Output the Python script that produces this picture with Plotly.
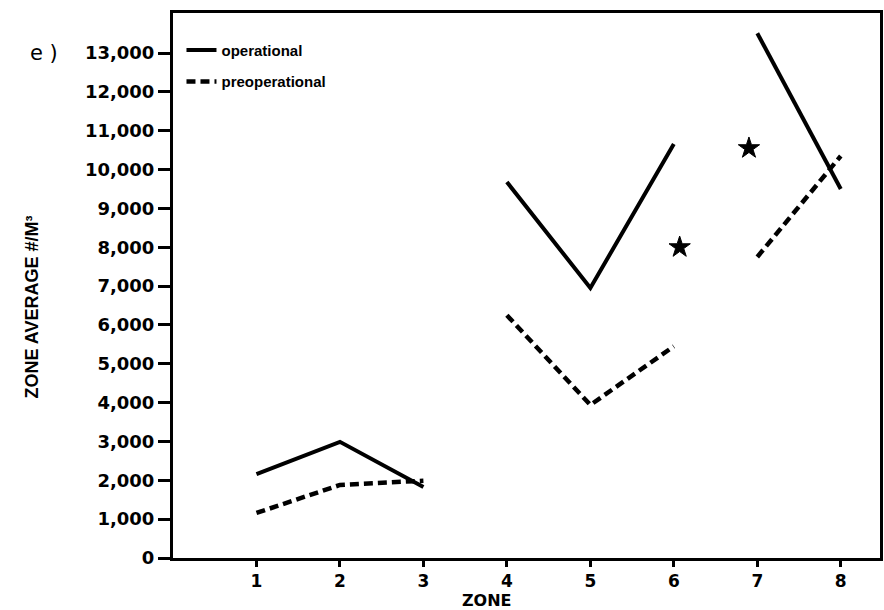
import plotly.graph_objects as go

# Zone averages (#/m^3); None breaks the line between zone groups
zones = [1, 2, 3, None, 4, 5, 6, None, 7, 8]
operational = [2160, 2990, 1830, None, 9680, 6950, 10660, None, 13510, 9500]
preoperational = [1160, 1880, 1990, None, 6250, 3940, 5450, None, 7750, 10350]

# Starred values
star_zones = [6.07, 6.9]
star_values = [8000, 10550]

y_ticks = list(range(0, 14000, 1000))
x_ticks = [1, 2, 3, 4, 5, 6, 7, 8]

sans = "Liberation Sans, Arial, sans-serif"
wide = "DejaVu Sans, sans-serif"

fig = go.Figure()
fig.add_trace(go.Scatter(
    x=zones, y=operational, mode="lines", name="operational",
    legendgroup="op",
    line=dict(color="black", width=4), connectgaps=False,
))
fig.add_trace(go.Scatter(
    x=zones, y=preoperational, mode="lines", name="preoperational",
    legendgroup="pre",
    line=dict(color="black", width=4.5, dash="9px,5px"), connectgaps=False,
))
fig.add_trace(go.Scatter(
    x=star_zones, y=star_values, mode="markers", showlegend=False,
    marker=dict(symbol="star", size=16, color="black",
                line=dict(color="black", width=1)),
))

fig.update_layout(
    width=884, height=610,
    margin=dict(l=173, r=1, t=13, b=52),
    paper_bgcolor="white", plot_bgcolor="white",
    font=dict(family=sans, color="black", size=16),
    showlegend=True,
    legend=dict(
        x=0.012, y=0.962, xanchor="left", yanchor="top",
        bgcolor="rgba(0,0,0,0)", borderwidth=0,
        font=dict(family=sans, size=15, weight="bold"),
        itemwidth=30, tracegroupgap=9,
    ),
    xaxis=dict(
        range=[0, 8.47], tickvals=x_ticks, ticktext=[str(v) for v in x_ticks],
        showgrid=False, zeroline=False,
        showline=True, linecolor="black", linewidth=3, mirror=True,
        ticks="outside", ticklen=6, tickwidth=2.5, tickcolor="black",
        tickfont=dict(family=wide, size=17, weight="bold"),
    ),
    yaxis=dict(
        range=[0, 14030], tickvals=y_ticks,
        ticktext=[f"{v:,}" for v in y_ticks],
        showgrid=False, zeroline=False,
        showline=True, linecolor="black", linewidth=3, mirror=True,
        ticks="outside", ticklen=12, tickwidth=2.5, tickcolor="black",
        tickfont=dict(family=wide, size=18, weight="bold"),
    ),
    annotations=[
        dict(text="e )", xref="paper", yref="paper", x=-0.183, y=0.927,
             xanchor="center", yanchor="middle", showarrow=False,
             font=dict(family=wide, size=21)),
        dict(text="ZONE AVERAGE #/M³", xref="paper", yref="paper",
             x=-0.199, y=0.46, xanchor="center", yanchor="middle",
             textangle=-90, showarrow=False,
             font=dict(family=sans, size=18, weight="bold")),
        dict(text="ZONE", xref="paper", yref="paper", x=0.444, y=-0.0776,
             xanchor="center", yanchor="middle", showarrow=False,
             font=dict(family=wide, size=16, weight="bold")),
    ],
)

fig.write_html("out.html")
